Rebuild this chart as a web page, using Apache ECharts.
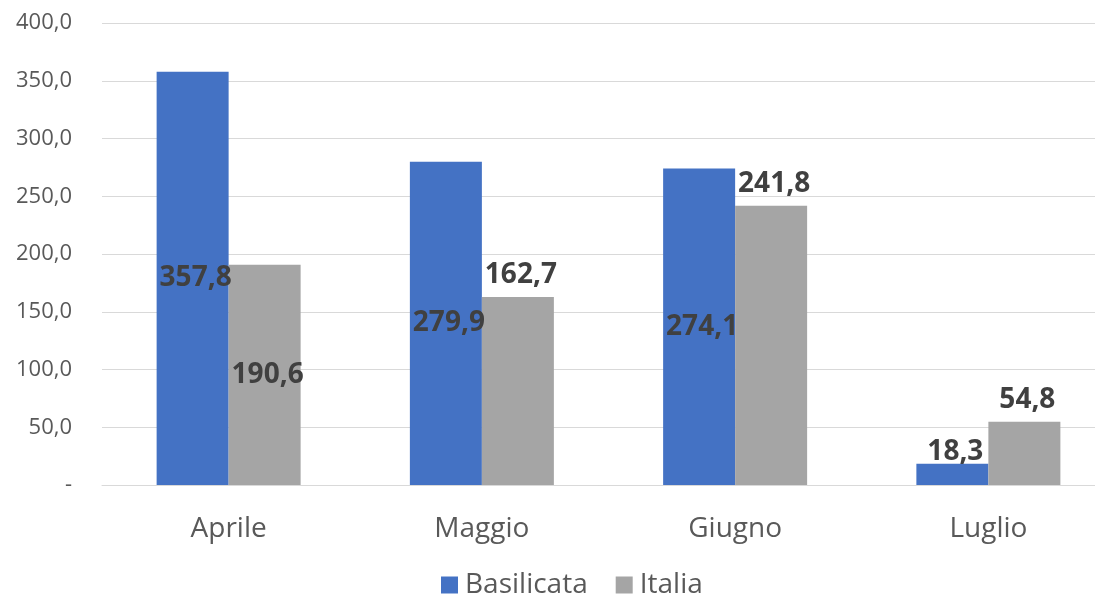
<!DOCTYPE html>
<html>
<head>
<meta charset="utf-8">
<script src="https://cdn.jsdelivr.net/npm/echarts@6.0.0/dist/echarts.min.js"></script>
<style>
  html, body { margin: 0; padding: 0; background: #fff; }
  #root { width: 1095px; height: 599px; }
</style>
</head>
<body>
<div id="root"></div>
<script>
  const categories = ['Aprile', 'Maggio', 'Giugno', 'Luglio'];
  const basilicata = [357.8, 279.9, 274.1, 18.3];
  const italia = [190.6, 162.7, 241.8, 54.8];

  // where excel put each label
  const basilicataLabelPos = ['inside', 'inside', 'inside', 'top'];
  const italiaLabelPos = ['inside', 'top', 'top', 'top'];

  const fmt = v => v.toFixed(1).replace('.', ',');

  function labelStyle(distance) {
    return {
      show: true,
      color: '#404040',
      fontWeight: 'bold',
      fontSize: 28,
      fontFamily: 'Open Sans',
      distance: distance,
      offset: [3, 0],
      formatter: p => fmt(p.value)
    };
  }

  function withLabels(values, positions) {
    return values.map((v, i) => ({
      value: v,
      label: { position: positions[i] }
    }));
  }

  const chart = echarts.init(document.getElementById('root'));
  chart.setOption({
    animation: false,
    textStyle: { fontFamily: 'Open Sans' },
    // plot area runs past the right edge in the original (cropped picture)
    grid: { left: 102, width: 1013, top: 23, bottom: 114, outerBoundsMode: 'none' },
    legend: {
      top: 566,
      left: 436,
      itemWidth: 17,
      itemHeight: 17,
      itemGap: 28,
      icon: 'rect',
      textStyle: { color: '#595959', fontSize: 28, fontFamily: 'Open Sans', padding: [0, 0, 0, 2] },
      data: ['Basilicata', 'Italia']
    },
    xAxis: {
      type: 'category',
      data: categories,
      axisLine: { lineStyle: { color: '#d9d9d9', width: 1 } },
      axisTick: { show: false },
      axisLabel: { color: '#595959', fontSize: 28, margin: 30 }
    },
    yAxis: {
      type: 'value',
      min: 0,
      max: 400,
      interval: 50,
      axisLine: { show: false },
      axisTick: { show: false },
      splitLine: { lineStyle: { color: '#d9d9d9', width: 1 } },
      axisLabel: {
        color: '#595959',
        fontSize: 22,
        margin: 30,
        formatter: v => v === 0 ? '-' : fmt(v)
      }
    },
    series: [
      {
        name: 'Basilicata',
        type: 'bar',
        barWidth: 72,
        barGap: '0%',
        itemStyle: { color: '#4472C4' },
        label: labelStyle(-2),
        data: withLabels(basilicata, basilicataLabelPos)
      },
      {
        name: 'Italia',
        type: 'bar',
        barWidth: 72,
        barGap: '0%',
        itemStyle: { color: '#A5A5A5' },
        label: labelStyle(8),
        data: withLabels(italia, italiaLabelPos)
      }
    ]
  });
</script>
</body>
</html>
